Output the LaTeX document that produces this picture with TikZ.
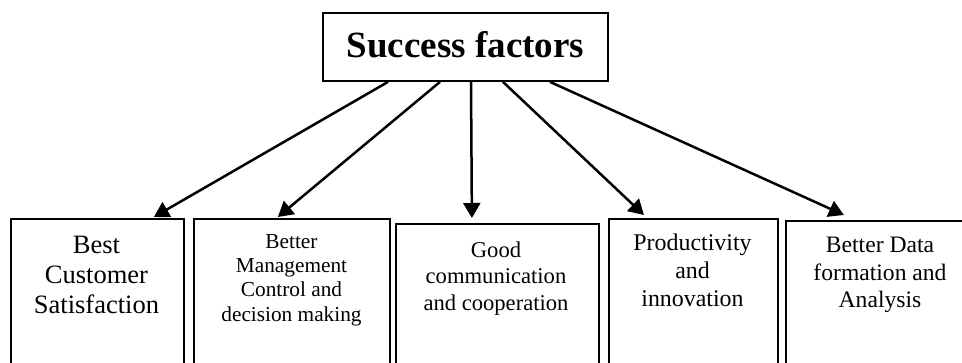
\documentclass[tikz,border=0pt]{standalone}
\usepackage{fontspec}
\setmainfont{Liberation Serif}
\usetikzlibrary{arrows.meta}
\begin{document}
\begin{tikzpicture}[x=1pt,y=-1pt,
  box/.style={draw,line width=1.8pt,inner sep=0pt},
  lbl/.style={align=center,inner sep=0pt,anchor=north},
  arr/.style={line width=2.5pt,-{Triangle[length=15pt,width=17pt]}}]
\useasboundingbox (0,0) rectangle (962,363);
\node[box,minimum width=285pt,minimum height=68pt] (top) at (465.5,47) {};
\node[inner sep=0pt,anchor=base,font=\fontsize{37}{40}\selectfont\bfseries] (title) at (465.5,58) {Success factors};
\node[box,minimum width=173pt,minimum height=160pt,anchor=north west] (b1) at (10,218) {};
\node[box,minimum width=196pt,minimum height=160pt,anchor=north west] (b2) at (193,218) {};
\node[box,minimum width=203pt,minimum height=160pt,anchor=north west] (b3) at (395,223) {};
\node[box,minimum width=169pt,minimum height=160pt,anchor=north west] (b4) at (608,218) {};
\node[box,minimum width=190pt,minimum height=160pt,anchor=north west] (b5) at (785,220) {};
\node[lbl,font=\fontsize{26.5}{30}\selectfont] (t1) at (96.5,235.5) {Best\\Customer\\Satisfaction};
\node[lbl,font=\fontsize{21.3}{24.4}\selectfont] (t2) at (291.5,234) {Better\\Management\\Control and\\decision making};
\node[lbl,font=\fontsize{22.6}{26.5}\selectfont] (t3) at (496,241.6) {Good\\communication\\and cooperation};
\node[lbl,font=\fontsize{23.9}{28}\selectfont] (t4) at (692.5,233.7) {Productivity\\and\\innovation};
\node[lbl,font=\fontsize{23.6}{27.5}\selectfont] (t5) at (880,237) {Better Data\\formation and\\Analysis};
\draw[arr] ([xshift=-77.5pt]top.south) -- ([xshift=56.5pt,yshift=1pt]b1.north);
\draw[arr] ([xshift=-25.5pt]top.south) -- ([xshift=-14pt,yshift=1pt]b2.north);
\draw[arr] ([xshift=5.5pt]top.south) -- ([xshift=-25.5pt,yshift=5pt]b3.north);
\draw[arr] ([xshift=37.5pt]top.south) -- ([xshift=-49.5pt,yshift=3pt]b4.north);
\draw[arr] ([xshift=84.5pt]top.south) -- ([xshift=-37pt,yshift=5pt]b5.north);
\end{tikzpicture}
\end{document}
